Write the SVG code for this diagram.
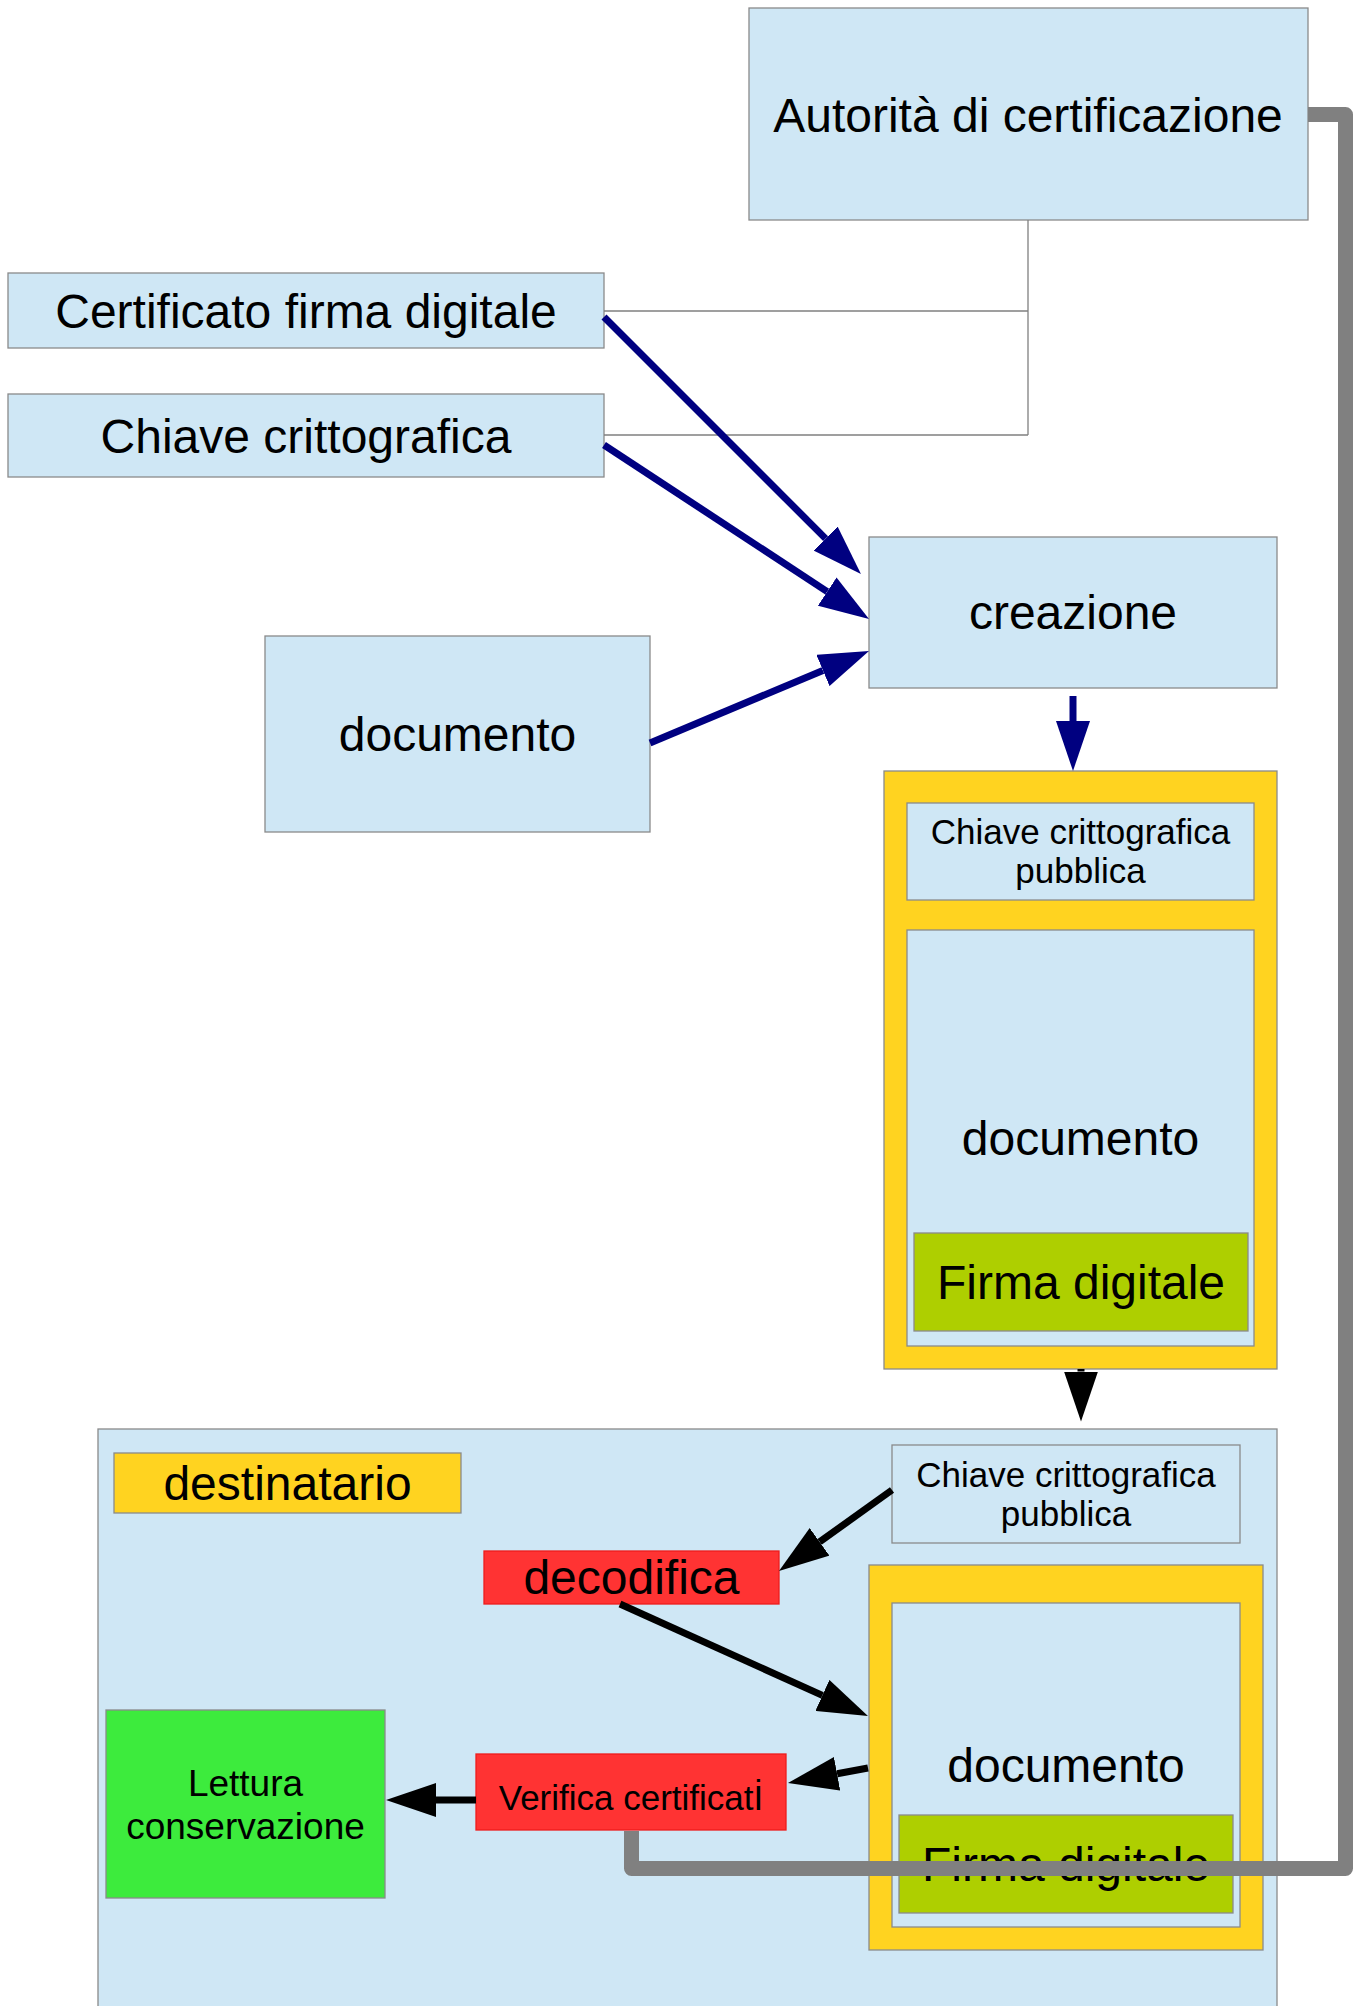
<svg xmlns="http://www.w3.org/2000/svg" width="1363" height="2006" viewBox="0 0 1363 2006">
<style>
text{font-family:"Liberation Sans",Arial,sans-serif;fill:#000;text-anchor:middle}
.blue{fill:#cfe7f5;stroke:#8a8a8a;stroke-width:1.3}
.yel{fill:#ffd320;stroke:#8a8a8a;stroke-width:1.3}
.lime{fill:#aecf00;stroke:#8a8a8a;stroke-width:1.3}
.red{fill:#ff3333;stroke:#ee1c1c;stroke-width:1.3}
.grn{fill:#3deb3d;stroke:#8a8a8a;stroke-width:1.3}
.t48{font-size:48px}
.t35{font-size:35px}
.t37{font-size:37px}
.thin{fill:none;stroke:#808080;stroke-width:1.3}
.nav{fill:none;stroke:#000080;stroke-width:7}
.blk{fill:none;stroke:#000;stroke-width:7}
.gray{fill:none;stroke:#808080;stroke-width:15;stroke-linejoin:round}
</style>
<defs>
<marker id="hn" markerUnits="userSpaceOnUse" markerWidth="50" markerHeight="34" refX="0" refY="17" orient="auto" viewBox="0 0 50 34"><path d="M0,0 L50,17 L0,34 z" fill="#000080"/></marker>
<marker id="hb" markerUnits="userSpaceOnUse" markerWidth="50" markerHeight="34" refX="0" refY="17" orient="auto" viewBox="0 0 50 34"><path d="M0,0 L50,17 L0,34 z" fill="#000"/></marker>
</defs>

<g id="autorita"><rect class="blue" x="749" y="8" width="559" height="212"/><text class="t48" x="1028" y="132">Autorità di certificazione</text></g>
<g id="certificato"><rect class="blue" x="8" y="273" width="596" height="75"/><text class="t48" x="306" y="328">Certificato firma digitale</text></g>
<g id="chiave"><rect class="blue" x="8" y="394" width="596" height="83"/><text class="t48" x="306" y="453">Chiave crittografica</text></g>
<g id="documento"><rect class="blue" x="265" y="636" width="385" height="196"/><text class="t48" x="457.5" y="751">documento</text></g>
<g id="creazione"><rect class="blue" x="869" y="537" width="408" height="151"/><text class="t48" x="1073" y="629">creazione</text></g>

<g id="pacchetto">
<rect class="yel" x="884" y="771" width="393" height="598"/>
<g id="chiave-pubblica"><rect class="blue" x="907" y="803" width="347" height="97"/><text class="t35" x="1080.5" y="844">Chiave crittografica</text><text class="t35" x="1080.5" y="883">pubblica</text></g>
<g id="documento-firmato"><rect class="blue" x="907" y="930" width="347" height="416"/><text class="t48" x="1080.5" y="1155">documento</text></g>
<g id="firma"><rect class="lime" x="914" y="1233" width="334" height="98"/><text class="t48" x="1081" y="1299">Firma digitale</text></g>
</g>

<g id="destinatario-area">
<rect class="blue" x="98" y="1429" width="1179" height="600"/>
<g id="destinatario"><rect class="yel" x="114" y="1453" width="347" height="60"/><text class="t48" x="287.5" y="1500">destinatario</text></g>
<g id="chiave-pubblica-2"><rect class="blue" x="892" y="1445" width="348" height="98"/><text class="t35" x="1066" y="1487">Chiave crittografica</text><text class="t35" x="1066" y="1526">pubblica</text></g>
<g id="decodifica"><rect class="red" x="484" y="1551" width="295" height="53"/><text class="t48" x="631.5" y="1594">decodifica</text></g>
<g id="pacchetto-2">
<rect class="yel" x="869" y="1565" width="394" height="385"/>
<g id="documento-2"><rect class="blue" x="892" y="1603" width="348" height="324"/><text class="t48" x="1066" y="1782">documento</text></g>
<g id="firma-2"><rect class="lime" x="899" y="1815" width="334" height="98"/><text class="t48" x="1066" y="1881">Firma digitale</text></g>
</g>
<g id="verifica"><rect class="red" x="476" y="1754" width="310" height="76"/><text class="t35" x="631" y="1810">Verifica certificatİ</text></g>
<g id="lettura"><rect class="grn" x="106" y="1710" width="279" height="188"/><text class="t37" x="245.5" y="1796">Lettura</text><text class="t37" x="245.5" y="1839">conservazione</text></g>
</g>

<g id="connectors">
<path class="thin" d="M1028,220 V435 M604,311 H1028 M604,435 H1028"/>
<path class="nav" d="M604,317 L825.6,538.6" marker-end="url(#hn)"/>
<path class="nav" d="M604,445 L827.2,591.6" marker-end="url(#hn)"/>
<path class="nav" d="M650,743 L822.9,670.4" marker-end="url(#hn)"/>
<path class="nav" d="M1073,696 V721" marker-end="url(#hn)"/>
<path class="blk" d="M1081,1369 V1371.5" stroke-width="2" marker-end="url(#hb)"/>
<path class="blk" d="M892,1490 L819.6,1541.9" marker-end="url(#hb)"/>
<path class="blk" d="M620,1604 L822.4,1695.4" marker-end="url(#hb)"/>
<path class="blk" d="M868,1768 L837.1,1773.8" marker-end="url(#hb)"/>
<path class="blk" d="M476,1800 H436" marker-end="url(#hb)"/>
<path class="gray" d="M1308,114.5 H1345.5 V1868.5 H631.5 V1831"/>
</g>
</svg>
